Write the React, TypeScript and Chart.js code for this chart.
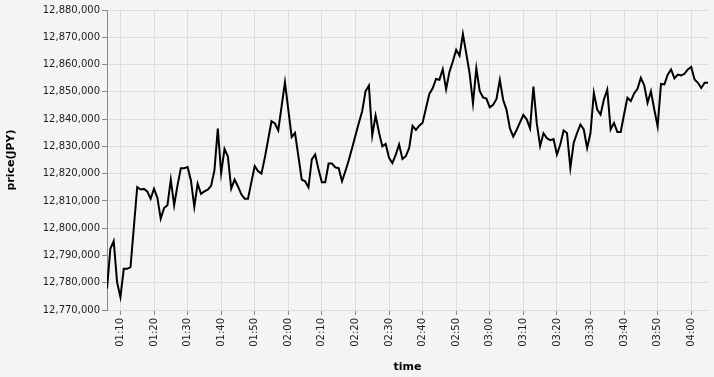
import { useEffect, useRef } from "react";
import { Chart, registerables } from "chart.js";

Chart.register(...registerables);

const times = [
  "01:06", "01:07", "01:08", "01:09", "01:10", "01:11", "01:12", "01:13", "01:14", "01:15",
  "01:16", "01:17", "01:18", "01:19", "01:20", "01:21", "01:22", "01:23", "01:24", "01:25",
  "01:26", "01:27", "01:28", "01:29", "01:30", "01:31", "01:32", "01:33", "01:34", "01:35",
  "01:36", "01:37", "01:38", "01:39", "01:40", "01:41", "01:42", "01:43", "01:44", "01:45",
  "01:46", "01:47", "01:48", "01:49", "01:50", "01:51", "01:52", "01:53", "01:54", "01:55",
  "01:56", "01:57", "01:58", "01:59", "02:00", "02:01", "02:02", "02:03", "02:04", "02:05",
  "02:06", "02:07", "02:08", "02:09", "02:10", "02:11", "02:12", "02:13", "02:14", "02:15",
  "02:16", "02:17", "02:18", "02:19", "02:20", "02:21", "02:22", "02:23", "02:24", "02:25",
  "02:26", "02:27", "02:28", "02:29", "02:30", "02:31", "02:32", "02:33", "02:34", "02:35",
  "02:36", "02:37", "02:38", "02:39", "02:40", "02:41", "02:42", "02:43", "02:44", "02:45",
  "02:46", "02:47", "02:48", "02:49", "02:50", "02:51", "02:52", "02:53", "02:54", "02:55",
  "02:56", "02:57", "02:58", "02:59", "03:00", "03:01", "03:02", "03:03", "03:04", "03:05",
  "03:06", "03:07", "03:08", "03:09", "03:10", "03:11", "03:12", "03:13", "03:14", "03:15",
  "03:16", "03:17", "03:18", "03:19", "03:20", "03:21", "03:22", "03:23", "03:24", "03:25",
  "03:26", "03:27", "03:28", "03:29", "03:30", "03:31", "03:32", "03:33", "03:34", "03:35",
  "03:36", "03:37", "03:38", "03:39", "03:40", "03:41", "03:42", "03:43", "03:44", "03:45",
  "03:46", "03:47", "03:48", "03:49", "03:50", "03:51", "03:52", "03:53", "03:54", "03:55",
  "03:56", "03:57", "03:58", "03:59", "04:00", "04:01", "04:02", "04:03", "04:04", "04:05",
];

const prices = [
  12777800, 12792500, 12795300, 12780200, 12774700, 12785100, 12785100, 12785700, 12800400, 12815100,
  12814200, 12814400, 12813500, 12810800, 12814500, 12811200, 12803500, 12807400, 12808400, 12817800,
  12808400, 12815700, 12822000, 12822000, 12822400, 12817500, 12807800, 12816300, 12812600, 12813500,
  12814100, 12815500, 12821200, 12836500, 12820200, 12829100, 12826300, 12814500, 12817800, 12815300,
  12812400, 12810800, 12810800, 12816900, 12822800, 12820900, 12820000, 12825800, 12832500, 12839200,
  12838400, 12835900, 12844700, 12853500, 12843500, 12833400, 12834900, 12826400, 12817800, 12817200,
  12815000, 12825200, 12827000, 12821500, 12816800, 12816800, 12823700, 12823700, 12822300, 12822000,
  12817200, 12820900, 12824900, 12829400, 12834000, 12838600, 12842900, 12850200, 12852300, 12834000,
  12841300, 12835200, 12830000, 12830900, 12825800, 12823900, 12827000, 12830700, 12825400, 12826400,
  12829400, 12837500, 12836000, 12837600, 12838700, 12844000, 12849200, 12851300, 12854700, 12854400,
  12858300, 12850900, 12857400, 12861100, 12865400, 12863200, 12871200, 12864100, 12856800, 12845800,
  12858600, 12850300, 12847900, 12847500, 12844300, 12845200, 12847400, 12854400, 12847000, 12843400,
  12836600, 12833600, 12836000, 12838800, 12841500, 12839900, 12836600, 12851900, 12838500, 12830100,
  12834800, 12833000, 12832300, 12832700, 12827000, 12830700, 12835800, 12834900, 12822100, 12831300,
  12834900, 12838000, 12836200, 12829400, 12834900, 12849600, 12843500, 12841700, 12847200, 12850800,
  12836200, 12838600, 12835300, 12835300, 12841700, 12847800, 12846600, 12849400, 12851100, 12855100,
  12852400, 12846000, 12850200, 12843500, 12837400, 12852900, 12852700, 12856300, 12858200, 12854900,
  12856300, 12856000, 12856600, 12858200, 12859100, 12854500, 12853300, 12851400, 12853300, 12853300,
];

const xTickLabels = [
  "01:10", "01:20", "01:30", "01:40", "01:50", "02:00", "02:10", "02:20", "02:30",
  "02:40", "02:50", "03:00", "03:10", "03:20", "03:30", "03:40", "03:50", "04:00",
];

const yTickValues = [
  12770000, 12780000, 12790000, 12800000, 12810000, 12820000,
  12830000, 12840000, 12850000, 12860000, 12870000, 12880000,
];

const FONT = "'DejaVu Sans', sans-serif";

const toMin = (s: string) => {
  const [h, m] = s.split(":").map(Number);
  return h * 60 + m;
};
const fmtMin = (v: number) => {
  const h = Math.floor(v / 60);
  const m = Math.round(v - h * 60);
  return String(h).padStart(2, "0") + ":" + String(m).padStart(2, "0");
};

export default function App() {
  const ref = useRef<HTMLCanvasElement | null>(null);

  useEffect(() => {
    document.body.style.margin = "0";
    if (!ref.current) return;
    const chart = new Chart(ref.current, {
      type: "line",
      data: {
        datasets: [
          {
            data: times.map((t, i) => ({ x: toMin(t), y: prices[i] })),
            borderColor: "#000",
            borderWidth: 2,
            pointRadius: 0,
            tension: 0,
            fill: false,
          },
        ],
      },
      options: {
        animation: false,
        responsive: false,
        layout: { padding: { left: 0, right: 6, top: 10, bottom: 0 } },
        plugins: { legend: { display: false }, tooltip: { enabled: false } },
        scales: {
          x: {
            type: "linear",
            min: toMin(times[0]),
            max: toMin(times[times.length - 1]),
            afterBuildTicks: (s: any) => {
              s.ticks = xTickLabels.map((l) => ({ value: toMin(l) }));
            },
            afterFit: (s: any) => {
              s.height = 67;
            },
            ticks: {
              minRotation: 90,
              maxRotation: 90,
              autoSkip: false,
              padding: 3,
              color: "#222",
              font: { family: FONT, size: 10 },
              callback: (v: any) => fmtMin(Number(v)),
            },
            grid: { color: "#dddddd", tickColor: "#888", tickLength: 5, lineWidth: 1 },
            border: { display: false },
            title: {
              display: true,
              text: "time",
              color: "#000",
              font: { family: FONT, size: 11, weight: "bold" },
              padding: { top: 0, bottom: 3 },
            },
          },
          y: {
            type: "linear",
            min: yTickValues[0],
            max: yTickValues[yTickValues.length - 1],
            afterBuildTicks: (s: any) => {
              s.ticks = yTickValues.map((v) => ({ value: v }));
            },
            afterFit: (s: any) => {
              s.width = 107;
            },
            ticks: {
              padding: 2,
              color: "#222",
              font: { family: FONT, size: 10 },
              callback: (v: any) => Number(v).toLocaleString("en-US"),
            },
            grid: { color: "#dddddd", tickColor: "#888", tickLength: 5, lineWidth: 1 },
            border: { color: "#888", width: 1 },
            title: {
              display: true,
              text: "price(JPY)",
              color: "#000",
              font: { family: FONT, size: 11, weight: "bold" },
              padding: { top: 5, bottom: 0 },
            },
          },
        },
      },
    } as any);
    return () => chart.destroy();
  }, []);

  return (
    <div style={{ width: 714, height: 377, background: "#f4f4f4" }}>
      <canvas ref={ref} width={714} height={377} style={{ display: "block" }} />
    </div>
  );
}
